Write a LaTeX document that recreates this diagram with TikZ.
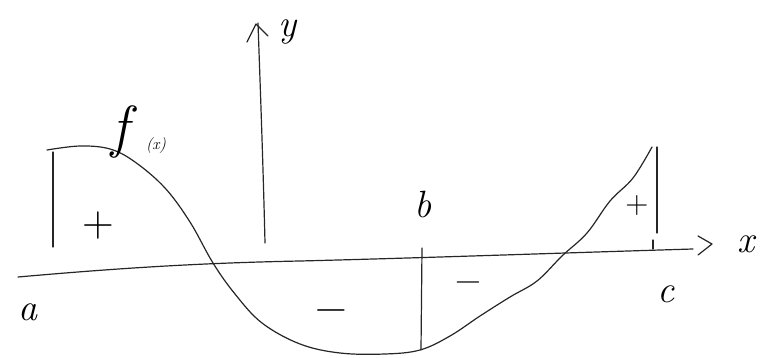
\documentclass[tikz,border=0pt]{standalone}
\usepackage{fontspec}
\begin{document}
\begin{tikzpicture}[x=1pt,y=-1pt,
  ink/.style={line width=1.2pt,line cap=round,line join=round,black!85},
  lbl/.style={inner sep=0pt,font=\fontsize{38}{38}\selectfont\itshape},
  sgn/.style={inner sep=0pt,font=\fontsize{44}{44}\selectfont}]
\useasboundingbox (0,0) rectangle (768,358);
% x axis
\coordinate (xs) at (18,277);
\coordinate (xe) at (693,249);
\draw[ink] (xs) .. controls (120,268) and (200,263) .. (300,261)
  .. controls (420,258) and (560,253) .. (xe);
\draw[ink] (698,236) -- (712,244) -- (698,255);
\node[lbl] (xl) at (746,244) {x};
% y axis
\coordinate (ys) at (265,243);
\coordinate (ye) at (258,23);
\draw[ink] (ys) .. controls (263,160) and (260,80) .. (ye);
\draw[ink] (247,42) -- (256,24) -- (268,36);
\node[lbl] (yl) at (288,32) {y};
% left bound at a
\coordinate (la) at (53,152);
\coordinate (lb) at (53,247);
\draw[ink] (la) -- (lb);
% curve f(x)
\draw[ink] plot[smooth,tension=0.6] coordinates {(47,150) (80,146) (110,149) (135,162) (165,188) (190,222) (213,263) (235,294) (262,323) (300,344) (340,353) (385,354) (420,350) (450,336) (480,316) (510,297) (537,281) (562,256) (587,233) (610,201) (633,178) (652,147)};
% b bound
\coordinate (ba) at (422,248);
\coordinate (bb) at (421,350);
\draw[ink] (ba) -- (bb);
% c bound
\coordinate (ca) at (657,147);
\coordinate (cb) at (657,233);
\draw[ink] (ca) -- (cb);
\coordinate (ta) at (653,240);
\coordinate (tb) at (653,249);
\draw[ink] (ta) -- (tb);
% labels
\node[inner sep=0pt,font=\fontsize{58}{58}\selectfont\itshape] (fl) at (120,132) {f};
\node[inner sep=0pt,font=\fontsize{16}{16}\selectfont\itshape] (fx) at (156,146) {(x)};
\node[lbl] (al) at (28,312) {a};
\node[lbl] (bl) at (423,205) {b};
\node[lbl] (cl) at (666,294) {c};
\node[sgn] (p1) at (98,226) {+};
\node[sgn,font=\fontsize{32}{32}\selectfont] (p2) at (637,206) {+};
\node[sgn] (m1) at (331,316) {−};
\node[sgn,font=\fontsize{36}{36}\selectfont] (m2) at (468,287) {−};
\end{tikzpicture}
\end{document}
